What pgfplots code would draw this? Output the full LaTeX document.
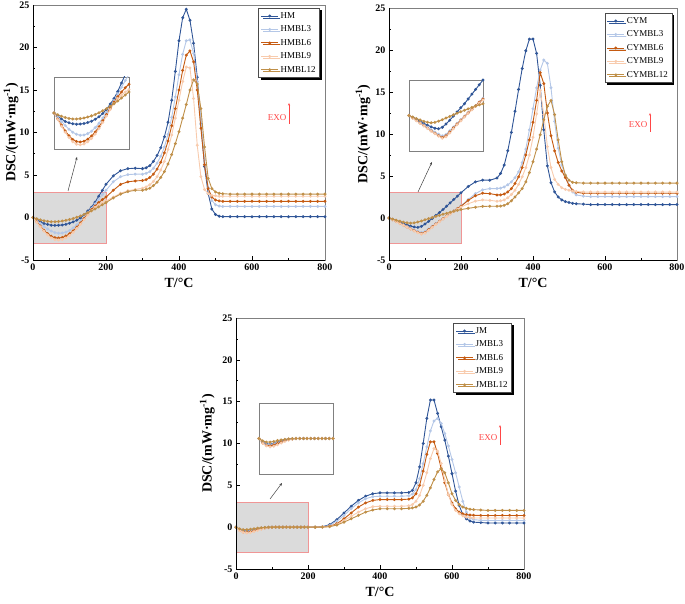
\documentclass[border=0pt]{standalone}
\usepackage{fontspec}
\setmainfont{Liberation Serif}
\usepackage{pgfplots}
\usepackage{pgfplotstable}
\pgfplotsset{compat=1.18}
\usetikzlibrary{shadows,arrows.meta}

\definecolor{cA}{RGB}{47,85,151}
\definecolor{cB}{RGB}{180,199,231}
\definecolor{cC}{RGB}{197,90,17}
\definecolor{cD}{RGB}{248,203,173}
\definecolor{cE}{RGB}{191,143,72}
\definecolor{exo}{RGB}{255,70,70}
\definecolor{boxred}{RGB}{240,150,150}

% T, five series per panel
\pgfplotstableread{
T a b c d e
0 0 0 0 0 0
10 -0.25 -0.35 -0.5 -0.55 -0.15
20 -0.5 -0.7 -1.0 -1.1 -0.28
30 -0.7 -1.05 -1.5 -1.6 -0.38
40 -0.82 -1.35 -1.9 -2.05 -0.45
50 -0.9 -1.6 -2.2 -2.4 -0.5
60 -0.93 -1.78 -2.38 -2.6 -0.5
70 -0.92 -1.85 -2.42 -2.65 -0.47
80 -0.88 -1.83 -2.35 -2.58 -0.42
90 -0.8 -1.72 -2.18 -2.4 -0.34
100 -0.68 -1.52 -1.92 -2.12 -0.24
110 -0.52 -1.22 -1.58 -1.75 -0.12
120 -0.32 -0.85 -1.15 -1.3 0.02
130 -0.05 -0.42 -0.65 -0.8 0.18
140 0.3 0.05 -0.12 -0.25 0.36
150 0.75 0.55 0.42 0.3 0.56
160 1.2 1.05 0.92 0.8 0.78
170 1.8 1.6 1.35 1.2 1.0
180 2.5 2.15 1.75 1.5 1.25
190 3.2 2.7 2.1 1.75 1.5
200 3.9 3.2 2.4 1.95 1.75
220 4.9 4.2 3.2 2.4 2.3
240 5.5 4.8 3.9 2.85 2.75
260 5.75 5.05 4.2 3.15 3.05
280 5.8 5.1 4.3 3.3 3.2
300 5.75 5.1 4.35 3.45 3.2
310 5.85 5.2 4.45 3.6 3.3
320 6.1 5.4 4.7 3.85 3.45
330 6.6 5.8 5.1 4.25 3.75
340 7.3 6.4 5.7 4.8 4.15
350 8.2 7.2 6.5 5.6 4.7
360 9.5 8.3 7.6 6.6 5.4
370 11.2 9.8 9.0 8.0 6.3
380 13.8 11.8 10.8 9.7 7.4
390 17.2 14.2 12.8 11.7 8.7
400 20.8 16.8 15.0 13.8 10.1
410 23.5 19.2 17.3 16.0 11.7
420 24.5 20.8 19.1 17.7 13.3
430 23.2 20.9 19.6 17.6 15.0
440 20.5 19.3 18.3 14.0 16.2
450 16.5 16.0 15.0 8.5 15.7
460 11.0 11.5 10.5 4.8 12.8
470 6.0 6.8 6.2 3.3 8.3
480 2.8 3.5 3.4 2.8 4.6
490 1.0 2.0 2.4 2.6 3.4
500 0.35 1.5 2.05 2.55 3.0
510 0.15 1.35 1.95 2.5 2.85
520 0.1 1.3 1.9 2.5 2.8
540 0.1 1.3 1.9 2.5 2.75
560 0.1 1.3 1.9 2.5 2.75
580 0.1 1.3 1.9 2.5 2.75
600 0.1 1.3 1.9 2.5 2.75
620 0.1 1.3 1.9 2.5 2.75
640 0.1 1.3 1.9 2.5 2.75
660 0.1 1.3 1.9 2.5 2.75
680 0.1 1.3 1.9 2.5 2.75
700 0.1 1.3 1.9 2.5 2.75
720 0.1 1.3 1.9 2.5 2.75
740 0.1 1.3 1.9 2.5 2.75
760 0.1 1.3 1.9 2.5 2.75
780 0.1 1.3 1.9 2.5 2.75
800 0.1 1.3 1.9 2.5 2.75
}\tabHM

\pgfplotstableread{
T a b c d e
0 0 0 0 0 0
10 -0.17 -0.2 -0.2 -0.22 -0.13
20 -0.34 -0.4 -0.42 -0.44 -0.26
30 -0.5 -0.6 -0.64 -0.66 -0.38
40 -0.66 -0.8 -0.86 -0.88 -0.5
50 -0.82 -1.0 -1.08 -1.1 -0.58
60 -0.96 -1.2 -1.3 -1.32 -0.62
70 -1.08 -1.4 -1.5 -1.54 -0.58
80 -1.12 -1.58 -1.7 -1.75 -0.48
90 -1.0 -1.72 -1.85 -1.92 -0.36
100 -0.72 -1.6 -1.72 -1.8 -0.22
110 -0.4 -1.3 -1.4 -1.48 -0.08
120 -0.05 -0.98 -1.05 -1.12 0.06
130 0.3 -0.66 -0.72 -0.78 0.19
140 0.65 -0.36 -0.4 -0.45 0.32
150 1.0 -0.06 -0.08 -0.12 0.44
160 1.4 0.24 0.22 0.18 0.56
170 1.8 0.54 0.52 0.48 0.68
180 2.2 0.84 0.82 0.78 0.8
190 2.6 1.14 1.12 1.05 0.9
200 3.0 1.45 1.4 1.3 1.0
220 3.75 2.2 2.1 1.7 1.15
240 4.3 2.9 2.65 2.0 1.28
260 4.5 3.35 2.95 2.15 1.38
280 4.5 3.5 2.9 2.1 1.4
300 4.75 3.5 2.75 2.0 1.4
310 5.3 3.55 2.75 2.05 1.42
320 6.3 3.7 2.85 2.15 1.5
330 8.0 3.95 3.1 2.4 1.7
340 10.2 4.3 3.5 2.8 2.05
350 12.7 4.8 4.1 3.3 2.5
360 15.3 5.5 4.9 4.0 3.0
370 17.8 6.6 6.0 4.9 3.5
380 19.9 8.2 7.5 6.0 4.3
390 21.3 10.5 9.3 7.5 5.4
400 21.3 13.0 11.4 9.6 6.7
410 19.6 15.5 14.0 12.4 8.2
420 15.8 17.6 17.3 15.2 9.9
430 10.5 18.8 16.0 12.3 11.7
440 6.2 18.4 12.5 8.5 13.3
450 4.2 15.5 9.8 6.0 14.0
460 3.1 11.5 8.0 4.6 12.3
470 2.5 8.3 6.6 4.0 9.3
480 2.15 6.3 5.6 3.6 6.7
490 1.95 5.0 4.8 3.4 5.1
500 1.85 3.9 3.9 3.3 4.5
510 1.75 3.1 3.3 3.2 4.25
520 1.7 2.75 3.05 3.15 4.2
540 1.65 2.6 2.95 3.1 4.15
560 1.6 2.55 2.95 3.1 4.15
580 1.6 2.55 2.95 3.1 4.15
600 1.6 2.55 2.95 3.1 4.15
620 1.6 2.55 2.95 3.1 4.15
640 1.6 2.55 2.95 3.1 4.15
660 1.6 2.55 2.95 3.1 4.15
680 1.6 2.55 2.95 3.1 4.15
700 1.6 2.55 2.95 3.1 4.15
720 1.6 2.55 2.95 3.1 4.15
740 1.6 2.55 2.95 3.1 4.15
760 1.6 2.55 2.95 3.1 4.15
780 1.6 2.55 2.95 3.1 4.15
800 1.6 2.55 2.95 3.1 4.15
}\tabCY

\pgfplotstableread{
T a b c d e
0 0 0 0 0 0
10 -0.3 -0.32 -0.38 -0.4 -0.2
20 -0.45 -0.5 -0.58 -0.62 -0.3
30 -0.48 -0.52 -0.62 -0.7 -0.3
40 -0.42 -0.46 -0.55 -0.65 -0.25
50 -0.32 -0.36 -0.42 -0.52 -0.18
60 -0.22 -0.25 -0.3 -0.38 -0.12
70 -0.13 -0.15 -0.18 -0.24 -0.07
80 -0.07 -0.08 -0.1 -0.13 -0.03
90 -0.03 -0.03 -0.04 -0.05 -0.01
100 0 0 0 0 0
110 0 0 0 0 0
120 0 0 0 0 0
130 0 0 0 0 0
140 0 0 0 0 0
150 0 0 0 0 0
160 0 0 0 0 0
170 0 0 0 0 0
180 0 0 0 0 0
190 0 0 0 0 0
200 0 0 0 0 0
220 0 0 0 0 0
240 0.05 0.03 0.02 0.02 0.01
260 0.3 0.2 0.12 0.08 0.06
280 0.9 0.7 0.4 0.3 0.25
300 1.7 1.4 1.0 0.8 0.6
320 2.5 2.2 1.7 1.3 1.0
340 3.2 2.9 2.4 1.8 1.4
360 3.7 3.4 2.9 2.2 1.8
380 4.0 3.65 3.2 2.45 2.05
400 4.1 3.7 3.3 2.5 2.2
420 4.1 3.7 3.3 2.5 2.2
440 4.1 3.7 3.3 2.5 2.2
460 4.1 3.7 3.3 2.5 2.2
480 4.15 3.75 3.35 2.55 2.25
490 4.4 3.95 3.5 2.7 2.3
500 5.3 4.5 4.0 3.1 2.4
510 7.2 5.8 5.0 3.8 2.65
520 10.0 7.6 6.7 5.0 3.1
530 13.0 9.6 8.7 6.5 3.8
540 15.2 11.5 10.2 8.2 4.7
550 15.2 12.7 10.2 9.4 5.7
560 13.6 13.0 8.8 9.1 6.6
570 12.0 12.4 7.0 7.6 7.0
580 10.4 11.2 5.3 5.6 6.5
590 8.5 9.7 3.9 3.9 5.3
600 6.4 8.1 2.9 2.7 4.0
610 4.3 6.5 2.2 2.0 3.2
620 2.6 4.8 1.8 1.6 2.7
630 1.5 3.1 1.6 1.35 2.4
640 1.0 1.8 1.5 1.2 2.25
650 0.75 1.1 1.45 1.15 2.15
660 0.6 0.9 1.42 1.1 2.1
680 0.55 0.82 1.4 1.1 2.05
700 0.5 0.8 1.4 1.1 2.0
720 0.5 0.8 1.4 1.1 2.0
740 0.5 0.8 1.4 1.1 2.0
760 0.5 0.8 1.4 1.1 2.0
780 0.5 0.8 1.4 1.1 2.0
800 0.5 0.8 1.4 1.1 2.0
}\tabJM

\pgfplotsset{
  sA/.style={cA, mark=o, mark size=1pt, line width=0.9pt},
  sB/.style={cB, mark=o, mark size=1pt, line width=0.9pt},
  sC/.style={cC, mark=o, mark size=1pt, line width=0.9pt},
  sD/.style={cD, mark=o, mark size=1pt, line width=0.9pt},
  sE/.style={cE, mark=o, mark size=1pt, line width=0.9pt},
  dscmain/.style={
    scale only axis, anchor=south west,
    xmin=0, xmax=800, ymin=-5, ymax=25,
    xtick={0,200,...,800}, ytick={-5,0,...,25},
    minor x tick num=1, minor y tick num=1,
    tick align=inside, tick pos=left,
    major tick length=4pt, minor tick length=2pt,
    tick style={black, line width=0.6pt},
    axis line style={black!50, line width=0.9pt},
    clip mode=individual,
    /pgf/number format/assume math mode=true,
    ticklabel style={font=\bfseries\fontsize{10}{11}\selectfont},
    xlabel={T/°C},
    ylabel={DSC/(mW·mg\textsuperscript{-1})},
    xlabel style={font=\bfseries\fontsize{14}{15}\selectfont, at={(axis description cs:0.5,-0.09)}, anchor=center},
    ylabel style={font=\bfseries\fontsize{14}{15}\selectfont, anchor=center},
    legend cell align=left,
    legend style={font=\fontsize{9}{12}\selectfont, draw=black!70, line width=0.6pt,
      fill=white, anchor=north east, inner sep=2pt, row sep=2pt,
      drop shadow={shadow xshift=2pt, shadow yshift=-2pt, fill=black, opacity=1}},
  },
  dscinset/.style={
    scale only axis, anchor=south west,
    xmin=0, xmax=200, ymin=-3, ymax=3,
    ticks=none, axis background/.style={fill=white},
    axis line style={black!50, line width=0.8pt},
  },
}

\newcommand{\allplots}[1]{%
  \addplot[sA] table[x=T,y=a]{#1};
  \addplot[sB] table[x=T,y=b]{#1};
  \addplot[sC] table[x=T,y=c]{#1};
  \addplot[sD] table[x=T,y=d]{#1};
  \addplot[sE] table[x=T,y=e]{#1};
}
\newcommand{\greybox}{%
  \fill[gray!28] (axis cs:0,-3) rectangle (axis cs:200,3);
  \draw[boxred, line width=0.6pt] (axis cs:0,-3) rectangle (axis cs:200,3);
}
\newcommand{\leftbottom}{%
  \draw[black, line width=0.9pt] (rel axis cs:0,1) -- (rel axis cs:0,0) -- (rel axis cs:1,0);
}

\begin{document}
\begin{tikzpicture}[x=1pt,y=1pt]
\path[use as bounding box] (0,0) rectangle (685,604);

% ---- panel 1 : HM ----
\begin{axis}[dscmain, at={(33pt,344pt)}, width=292pt, height=255pt,
  ylabel style={at={(axis description cs:-0.075,0.5)}},
  legend style={at={(axis description cs:0.983,0.988)}}]
  \greybox
  \allplots{\tabHM}
  \leftbottom
  \legend{HM,HMBL3,HMBL6,HMBL9,HMBL12}
\end{axis}
\begin{axis}[dscinset, at={(54pt,455pt)}, width=75pt, height=72pt]
  \allplots{\tabHM}
\end{axis}
\draw[black!75, line width=0.5pt, -{Stealth[length=3pt,width=2.5pt]}] (68,413) -- (77,447);
\node[text=exo, font=\fontsize{9}{10}\selectfont] at (277,486) {EXO};
\draw[exo, line width=0.6pt, -{Stealth[length=2.5pt,width=2pt]}] (289,480) -- (289,501);

% ---- panel 2 : CYM ----
\begin{axis}[dscmain, at={(389pt,344pt)}, width=288pt, height=252pt,
  ylabel style={at={(axis description cs:-0.09,0.5)}},
  legend style={at={(axis description cs:0.983,0.98)}}]
  \greybox
  \allplots{\tabCY}
  \leftbottom
  \legend{CYM,CYMBL3,CYMBL6,CYMBL9,CYMBL12}
\end{axis}
\begin{axis}[dscinset, at={(409pt,453pt)}, width=74pt, height=71pt]
  \allplots{\tabCY}
\end{axis}
\draw[black!75, line width=0.5pt, -{Stealth[length=3pt,width=2.5pt]}] (418,412) -- (432,442);
\node[text=exo, font=\fontsize{9}{10}\selectfont] at (638,479) {EXO};
\draw[exo, line width=0.6pt, -{Stealth[length=2.5pt,width=2pt]}] (650,472) -- (650,491);

% ---- panel 3 : JM ----
\begin{axis}[dscmain, at={(236pt,35pt)}, width=288pt, height=251pt,
  ylabel style={at={(axis description cs:-0.1,0.5)}},
  legend style={at={(axis description cs:0.958,0.98)}}]
  \greybox
  \allplots{\tabJM}
  \leftbottom
  \legend{JM,JMBL3,JMBL6,JMBL9,JMBL12}
\end{axis}
\begin{axis}[dscinset, at={(259pt,130pt)}, width=74pt, height=71pt]
  \allplots{\tabJM}
\end{axis}
\draw[black!75, line width=0.5pt, -{Stealth[length=3pt,width=2.5pt]}] (270,105) -- (282,121);
\node[text=exo, font=\fontsize{9}{10}\selectfont] at (488,166) {EXO};
\draw[exo, line width=0.6pt, -{Stealth[length=2.5pt,width=2pt]}] (500,159) -- (500,179);
\end{tikzpicture}
\end{document}
